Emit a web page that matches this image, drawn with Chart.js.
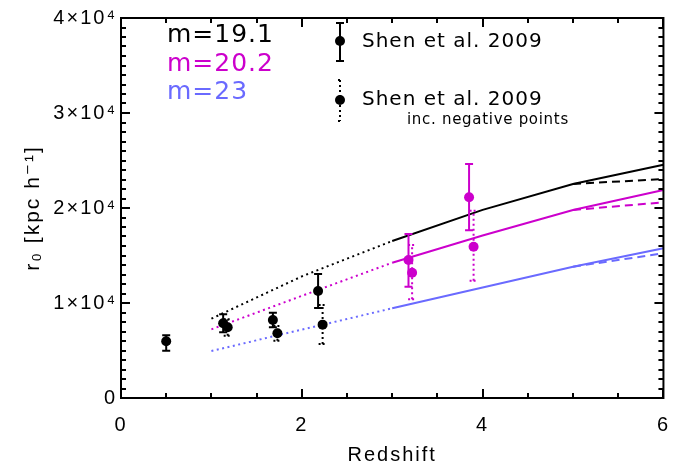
<!DOCTYPE html>
<html><head><meta charset="utf-8">
<script src="https://cdn.jsdelivr.net/npm/chart.js@4/dist/chart.umd.min.js"></script>
<style>html,body{margin:0;padding:0;background:#fff}canvas{display:block}</style>
</head><body>
<canvas id="c" width="684" height="468"></canvas>
<script>
// ---- data ----
const zDotted = [1, 2, 3];
const zSolid  = [3, 4, 5, 6];
const zDashed = [5, 6];

const m191Dotted = [8350, 12800, 16530];
const m191Solid  = [16530, 19800, 22530, 24560];
const m191Dashed = [22530, 23050];

const m202Dotted = [7230, 10750, 14240];
const m202Solid  = [14240, 17100, 19790, 21900];
const m202Dashed = [19790, 20600];

const m23Dotted = [4950, 7200, 9440];
const m23Solid  = [9440, 11630, 13820, 15760];
const m23Dashed = [13820, 15230];

// Shen et al. 2009
const shenZ  = [0.5, 1.13, 1.68, 2.18];
const shenR  = [5970, 7860, 8210, 11260];
const shenLo = [4980, 6920, 7440, 9470];
const shenHi = [6600, 8810, 8980, 13050];
// Shen et al. 2009 inc. negative points
const shenNegZ  = [1.18, 1.73, 2.23];
const shenNegR  = [7440, 6810, 7720];
const shenNegLo = [6560, 6030, 5680];
const shenNegHi = [8280, 7580, 9790];
// magenta points
const magZ  = [3.18, 3.85];
const magR  = [14530, 21130];
const magLo = [11720, 17650];
const magHi = [17260, 24630];
const magNegZ  = [3.22, 3.90];
const magNegR  = [13190, 15930];
const magNegLo = [10390, 12350];
const magNegHi = [16110, 19720];

const xTickLabels = {0: '0', 2: '2', 4: '4', 6: '6'};
const yTickLabels = {0: '0', 10000: '1×10⁴', 20000: '2×10⁴', 30000: '3×10⁴', 40000: '4×10⁴'};
const modelLabels = ['m=19.1', 'm=20.2', 'm=23'];
const shenLabel = 'Shen et al. 2009';
const shenNegNote = 'inc. negative points';

// ---- styles ----
const BLACK = '#000000', MAG = '#cc00cc', BLUE = '#6a6aff';
const FONT = '"DejaVu Sans", sans-serif';
const AFONT = '"Liberation Sans", "DejaVu Sans", sans-serif';
const DOT = [2, 3.5], DASH = [8, 5];

function pts(xs, ys) { return xs.map((x, i) => ({x: x, y: ys[i]})); }
function lineDs(xs, ys, color, dash) {
  return {data: pts(xs, ys), showLine: true, borderColor: color, borderWidth: 2,
          borderDash: dash, pointRadius: 0, fill: false, tension: 0};
}
function pointDs(xs, ys, lo, hi, color, dotted) {
  return {data: pts(xs, ys), showLine: false, pointRadius: 5, pointBackgroundColor: color,
          pointBorderWidth: 0, borderColor: color, errLo: lo, errHi: hi, errDotted: dotted};
}

const datasets = [
  pointDs(shenZ, shenR, shenLo, shenHi, BLACK, false),
  pointDs(shenNegZ, shenNegR, shenNegLo, shenNegHi, BLACK, true),
  pointDs(magZ, magR, magLo, magHi, MAG, false),
  pointDs(magNegZ, magNegR, magNegLo, magNegHi, MAG, true),
  lineDs(zDotted, m191Dotted, BLACK, DOT),
  lineDs(zSolid, m191Solid, BLACK, []),
  lineDs(zDashed, m191Dashed, BLACK, DASH),
  lineDs(zDotted, m202Dotted, MAG, DOT),
  lineDs(zSolid, m202Solid, MAG, []),
  lineDs(zDashed, m202Dashed, MAG, DASH),
  lineDs(zDotted, m23Dotted, BLUE, DOT),
  lineDs(zSolid, m23Solid, BLUE, []),
  lineDs(zDashed, m23Dashed, BLUE, DASH)
];

function errBar(ctx, x, y1, y2, color, dotted, cap) {
  ctx.save();
  ctx.strokeStyle = color;
  ctx.lineWidth = 2;
  ctx.setLineDash(dotted ? [2, 3] : []);
  ctx.beginPath();
  ctx.moveTo(x, y1); ctx.lineTo(x, y2);
  ctx.stroke();
  ctx.setLineDash(dotted ? [2, 2] : []);
  ctx.beginPath();
  ctx.moveTo(x - cap, y1); ctx.lineTo(x + cap, y1);
  ctx.moveTo(x - cap, y2); ctx.lineTo(x + cap, y2);
  ctx.stroke();
  ctx.restore();
}

const spacingPlugin = {
  id: 'spacing',
  beforeDraw(chart) { chart.ctx.letterSpacing = '2px'; }
};

const errPlugin = {
  id: 'errbars',
  beforeDatasetDraw(chart, args) {
    const ds = chart.data.datasets[args.index];
    if (!ds.errLo) return;
    const xs = chart.scales.x, ys = chart.scales.y, ctx = chart.ctx;
    ds.data.forEach((p, i) => {
      errBar(ctx, xs.getPixelForValue(p.x), ys.getPixelForValue(ds.errLo[i]),
             ys.getPixelForValue(ds.errHi[i]), ds.borderColor, ds.errDotted, 4);
    });
  }
};

const framePlugin = {
  id: 'frame',
  afterDatasetsDraw(chart) {
    const ctx = chart.ctx, a = chart.chartArea, xs = chart.scales.x, ys = chart.scales.y;
    ctx.save();
    ctx.strokeStyle = '#000';
    ctx.lineWidth = 2;
    ctx.beginPath();
    for (let v = 0; v <= 6.0001; v += 0.5) {
      const px = Math.round(xs.getPixelForValue(v));
      const L = (Math.abs(v % 2) < 1e-6) ? 9 : 5;
      ctx.moveTo(px, a.bottom); ctx.lineTo(px, a.bottom - L);
      ctx.moveTo(px, a.top); ctx.lineTo(px, a.top + L);
    }
    for (let v = 0; v <= 40000; v += 1000) {
      const py = Math.round(ys.getPixelForValue(v));
      const L = (v % 10000 === 0) ? 9 : 5;
      ctx.moveTo(a.left, py); ctx.lineTo(a.left + L, py);
      ctx.moveTo(a.right, py); ctx.lineTo(a.right - L, py);
    }
    ctx.stroke();
    ctx.strokeRect(a.left, a.top, a.right - a.left, a.bottom - a.top);
    ctx.restore();
  }
};

const legendPlugin = {
  id: 'legendText',
  afterDraw(chart) {
    const ctx = chart.ctx;
    ctx.save();
    ctx.textAlign = 'left';
    ctx.textBaseline = 'alphabetic';
    ctx.letterSpacing = '1px';
    ctx.font = '25px ' + FONT;
    const cols = [BLACK, MAG, BLUE];
    const base = [42, 71, 99];
    modelLabels.forEach((t, i) => { ctx.fillStyle = cols[i]; ctx.fillText(t, 167, base[i]); });
    ctx.fillStyle = BLACK;
    ctx.font = '20px ' + FONT;
    ctx.fillText(shenLabel, 362, 47);
    ctx.fillText(shenLabel, 362, 105);
    ctx.letterSpacing = '0.7px';
    ctx.font = '15px ' + FONT;
    ctx.fillText(shenNegNote, 407, 124);
    // symbols
    errBar(ctx, 340, 23, 61, BLACK, false, 4);
    errBar(ctx, 340, 80, 121, BLACK, true, 2);
    ctx.beginPath(); ctx.arc(340, 41, 5, 0, Math.PI * 2); ctx.fill();
    ctx.beginPath(); ctx.arc(340, 100, 5, 0, Math.PI * 2); ctx.fill();
    ctx.restore();
  }
};

new Chart(document.getElementById('c'), {
  type: 'scatter',
  data: {datasets: datasets},
  plugins: [spacingPlugin, errPlugin, framePlugin, legendPlugin],
  options: {
    responsive: false,
    devicePixelRatio: 1,
    animation: false,
    events: [],
    layout: {padding: {top: 18, right: 18, left: 0, bottom: 0}},
    plugins: {legend: {display: false}, tooltip: {enabled: false}},
    scales: {
      x: {
        type: 'linear', min: 0, max: 6,
        grid: {display: false, drawTicks: false},
        border: {display: false},
        ticks: {stepSize: 2, padding: 15, color: '#000', font: {family: AFONT, size: 20},
                maxRotation: 0, callback: v => xTickLabels[v] !== undefined ? xTickLabels[v] : ''},
        title: {display: true, text: 'Redshift', color: '#000', font: {family: AFONT, size: 20},
                padding: {top: 0, bottom: 1}},
        afterFit(s) { s.height = 70; }
      },
      y: {
        type: 'linear', min: 0, max: 40000,
        grid: {display: false, drawTicks: false},
        border: {display: false},
        ticks: {stepSize: 10000, padding: 4, color: '#000', font: {family: AFONT, size: 20},
                callback: v => yTickLabels[v] !== undefined ? yTickLabels[v] : ''},
        title: {display: true, text: 'r₀ [kpc h⁻¹]', color: '#000', font: {family: AFONT, size: 21},
                padding: {top: 21, bottom: 0}},
        afterFit(s) { s.width = 121; }
      }
    }
  }
});
</script>
</body></html>
